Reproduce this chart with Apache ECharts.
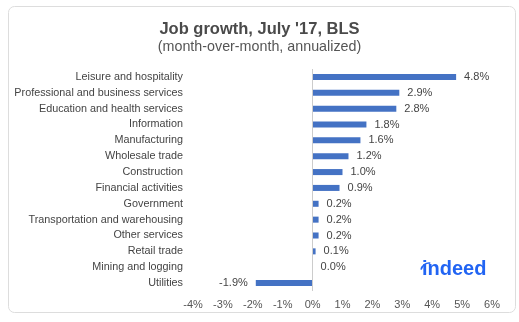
<!DOCTYPE html>
<html>
<head>
<meta charset="utf-8">
<script src="https://cdn.jsdelivr.net/npm/echarts@6/dist/echarts.min.js"></script>
<style>
  html, body { margin: 0; padding: 0; background: #fff; }
  #chart { width: 519px; height: 322px; }
</style>
</head>
<body>
<div id="chart"></div>
<script>
// Industry sectors, top to bottom
const categories = [
  'Leisure and hospitality',
  'Professional and business services',
  'Education and health services',
  'Information',
  'Manufacturing',
  'Wholesale trade',
  'Construction',
  'Financial activities',
  'Government',
  'Transportation and warehousing',
  'Other services',
  'Retail trade',
  'Mining and logging',
  'Utilities'
];
// Month-over-month job growth, annualized (%)
const growth = [4.8, 2.9, 2.8, 1.8, 1.6, 1.2, 1.0, 0.9, 0.2, 0.2, 0.2, 0.1, 0.0, -1.9];
// Horizontal axis range (%)
const xMin = -4, xMax = 6, xStep = 1;

const FONT = '"Liberation Sans", Arial, Helvetica, sans-serif';
const chart = echarts.init(document.getElementById('chart'), null, { renderer: 'canvas' });

// Category axis is drawn bottom-up, so reverse the order for ECharts
const cats = categories.slice().reverse();
const vals = growth.slice().reverse();

chart.setOption({
  animation: false,
  textStyle: { fontFamily: FONT },
  title: {
    text: "Job growth, July '17, BLS",
    subtext: '(month-over-month, annualized)',
    left: 'center',
    top: 16,
    itemGap: 2,
    textStyle: { fontFamily: FONT, fontSize: 16.5, fontWeight: 'bold', color: '#4a4a4a' },
    subtextStyle: { fontFamily: FONT, fontSize: 14.3, color: '#555' }
  },
  grid: { left: 193, right: 27, top: 69, bottom: 31, containLabel: false },
  xAxis: {
    type: 'value',
    min: xMin, max: xMax, interval: xStep,
    axisLine: { show: false },
    axisTick: { show: false },
    splitLine: { show: false },
    axisLabel: {
      margin: 8,
      fontSize: 11, color: '#555', fontFamily: FONT,
      formatter: v => v + '%'
    }
  },
  yAxis: {
    type: 'category',
    data: cats,
    axisLine: { show: false },
    axisTick: { show: false },
    axisLabel: { margin: 10, fontSize: 10.8, color: '#444', fontFamily: FONT }
  },
  series: [{
    type: 'bar',
    data: vals.map(v => ({
      value: v,
      label: { position: v < 0 ? 'left' : 'right' }
    })),
    barCategoryGap: '62%',
    itemStyle: { color: '#4472c4' },
    label: {
      show: true,
      distance: 8,
      fontSize: 11,
      color: '#444',
      fontFamily: FONT,
      formatter: p => p.value.toFixed(1) + '%'
    },
    markLine: {
      silent: true,
      symbol: 'none',
      label: { show: false },
      lineStyle: { color: '#cccccc', width: 1, type: 'solid' },
      data: [{ xAxis: 0 }]
    }
  }],
  graphic: [
    {
      type: 'rect',
      shape: { x: 8.5, y: 6.5, width: 507, height: 306, r: 6 },
      style: { fill: 'none', stroke: '#dddddd', lineWidth: 1 },
      silent: true,
      z: -1
    },
    {
      type: 'text',
      left: 422, top: 259,
      style: {
        text: 'indeed',
        font: 'bold 20px "Liberation Sans", Arial, sans-serif',
        fill: '#2164f3'
      }
    },
    {
      type: 'arc',
      shape: { cx: 429, cy: 271, r: 8, startAngle: Math.PI * 1.05, endAngle: Math.PI * 1.55 },
      style: { stroke: '#2164f3', lineWidth: 1.6, fill: 'none' }
    }
  ]
});
</script>
</body>
</html>
